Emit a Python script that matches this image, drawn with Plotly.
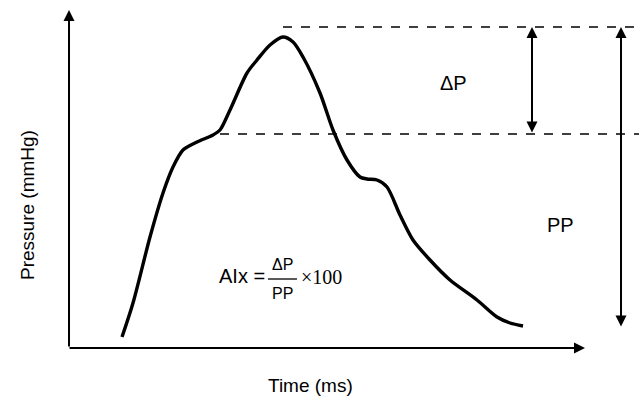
import plotly.graph_objects as go

# ---- data (schematic units: time along x, pressure along y) ----
time = [54, 65, 82, 95, 105, 115, 129, 145, 152, 162, 179, 189, 202, 215, 225,
        235, 252, 265, 279, 292, 299, 309, 319, 332, 345, 362, 382, 409, 429, 442, 455]
pressure = [11, 45, 111, 155, 181, 198, 206, 213, 218, 238, 275, 288, 303, 311, 306,
            291, 255, 218, 188, 171, 169, 168, 161, 133, 108, 88, 68, 48, 31, 25, 22]

peak_level = 321          # upper dashed line (systolic peak)
inflection_level = 214    # lower dashed line (inflection point)
peak_time = 215           # start of upper dashed line
inflection_time = 152     # start of lower dashed line
dp_arrow_time = 464       # ΔP arrow position
pp_arrow_time = 553       # PP arrow position
pp_bottom = 20            # bottom of PP arrow
x_axis_end = 517
y_axis_end = 338

X_RANGE = [-68, 571]
Y_RANGE = [-51, 348]

fig = go.Figure()

fig.add_trace(go.Scatter(
    x=time, y=pressure, mode="lines",
    line=dict(color="black", width=3.4, shape="spline", smoothing=0.8),
    hoverinfo="skip", showlegend=False,
))

FONT = "Liberation Sans, Arial, sans-serif"
SERIF = "Liberation Serif, Times New Roman, serif"

ann = []
def arrow(x, y, ax, ay, both=False, width=2):
    d = dict(x=x, y=y, ax=ax, ay=ay, xref="x", yref="y", axref="x", ayref="y",
             text="", showarrow=True, arrowhead=2, arrowsize=1.1, arrowwidth=width,
             arrowcolor="black", standoff=0, startstandoff=0)
    if both:
        d.update(arrowside="end+start", startarrowhead=2, startarrowsize=1.1)
    ann.append(d)

# axes
arrow(1, y_axis_end, 1, 0, width=2)
arrow(x_axis_end, 0, 0, 0, width=2)
# ΔP and PP arrows
arrow(dp_arrow_time, peak_level, dp_arrow_time, inflection_level, both=True, width=2)
arrow(pp_arrow_time, peak_level, pp_arrow_time, pp_bottom, both=True, width=2)

def text(x, y, s, size=19, font=FONT, **kw):
    d = dict(x=x, y=y, xref="x", yref="y", text=s, showarrow=False,
             font=dict(family=font, size=size, color="black"))
    d.update(kw)
    ann.append(d)

text(385, 265, "ΔP", size=20)
text(492, 123, "PP", size=20)
text(242, -37, "Time (ms)", size=19)
text(-41, 143, "Pressure (mmHg)", size=19, textangle=-90)

# formula
text(199, 72, "AIx =", size=20, xanchor="right")
text(214, 84, "ΔP", size=16)
text(214, 55, "PP", size=16)
text(231, 71, "×100", size=20, font=SERIF, xanchor="left")

shapes = [
    dict(type="line", xref="x", yref="y", x0=peak_time, x1=X_RANGE[1],
         y0=peak_level, y1=peak_level, line=dict(color="black", width=1.5, dash="dash")),
    dict(type="line", xref="x", yref="y", x0=inflection_time, x1=X_RANGE[1],
         y0=inflection_level, y1=inflection_level, line=dict(color="black", width=1.5, dash="dash")),
    dict(type="line", xref="x", yref="y", x0=200, x1=229, y0=69, y1=69,
         line=dict(color="black", width=1.3)),
]

fig.update_layout(
    width=639, height=399, margin=dict(l=0, r=0, t=0, b=0),
    paper_bgcolor="white", plot_bgcolor="white",
    xaxis=dict(range=X_RANGE, visible=False, fixedrange=True),
    yaxis=dict(range=Y_RANGE, visible=False, fixedrange=True),
    annotations=ann, shapes=shapes, showlegend=False,
)

fig.write_html("out.html", config={"displayModeBar": False},
               post_script="document.body.style.margin='0';document.body.style.overflow='hidden';")
